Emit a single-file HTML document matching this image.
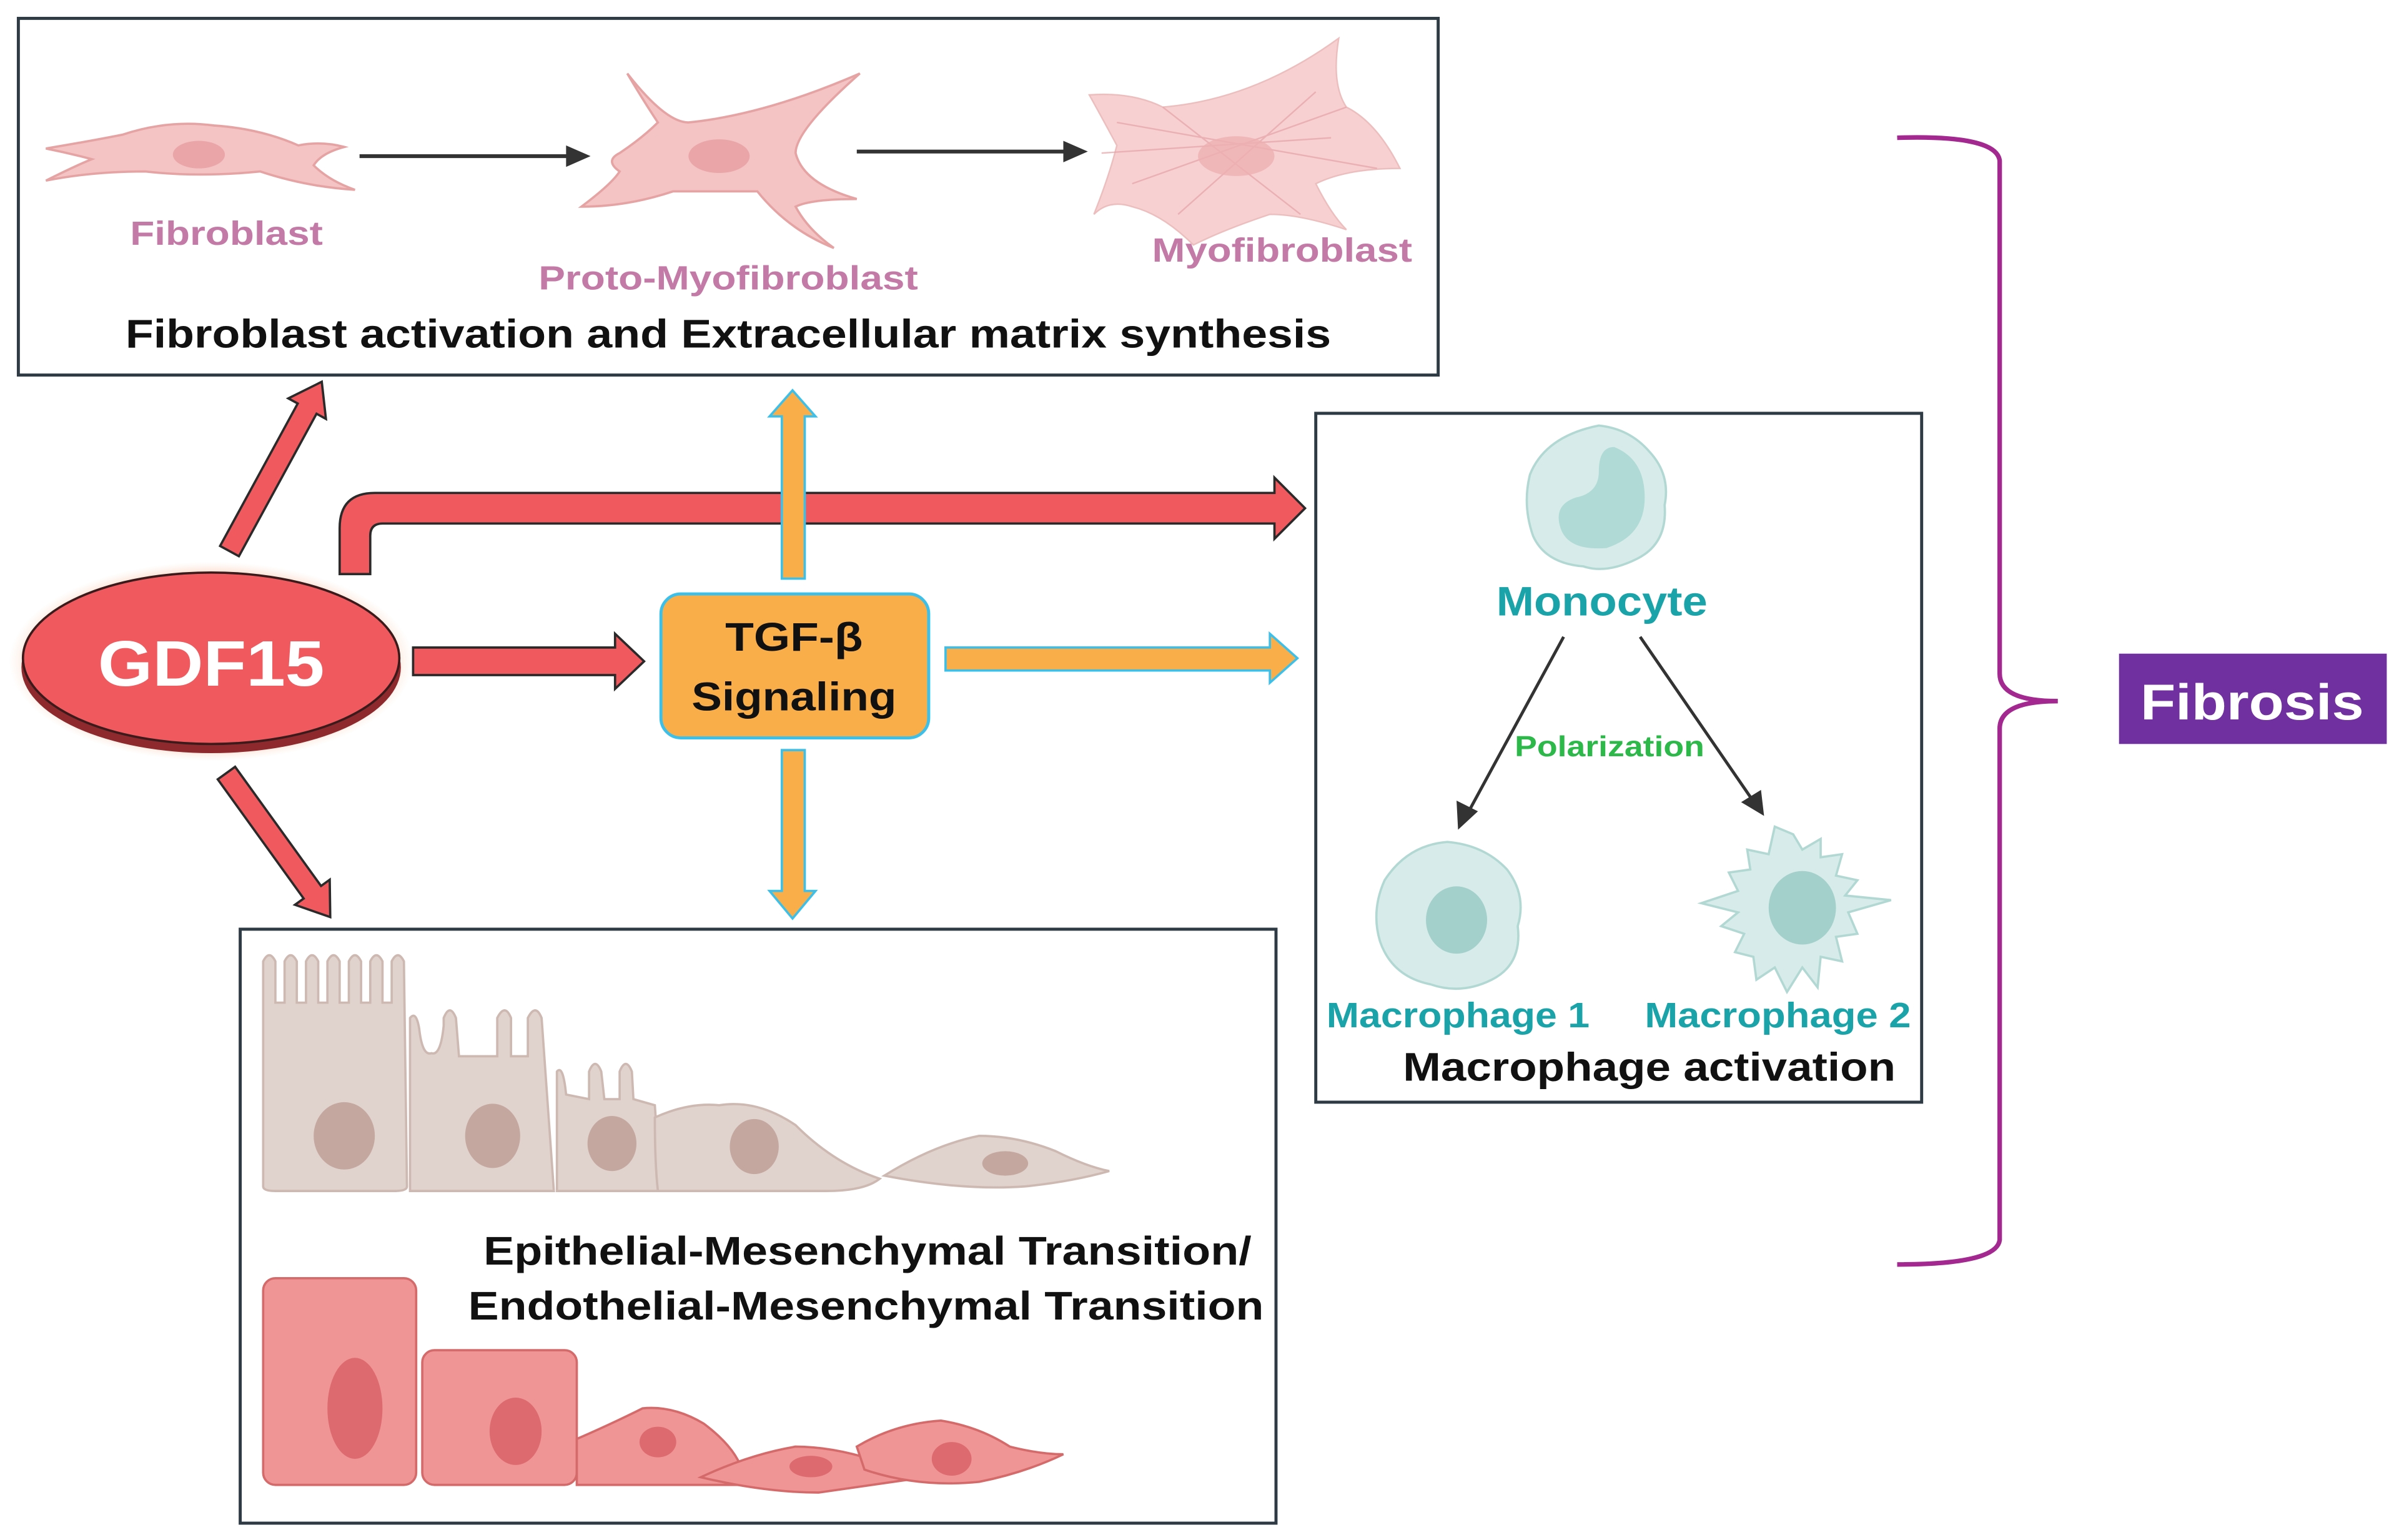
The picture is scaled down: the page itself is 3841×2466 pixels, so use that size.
<!DOCTYPE html>
<html><head><meta charset="utf-8"><style>
html,body{margin:0;padding:0;background:#fff;}
svg{display:block;}
text{font-family:"Liberation Sans",Arial,sans-serif;font-weight:bold;}
</style></head><body>
<svg width="3841" height="2466" viewBox="0 0 1568 1006" preserveAspectRatio="none" xmlns="http://www.w3.org/2000/svg">
<defs>
<radialGradient id="glow" cx="50%" cy="50%" r="50%">
<stop offset="80%" stop-color="#f7b08a" stop-opacity="0.9"/>
<stop offset="100%" stop-color="#fbd9c4" stop-opacity="0"/>
</radialGradient>
</defs>
<rect width="1568" height="1006" fill="#fff"/>

<!-- Top box -->
<rect x="12" y="12" width="928" height="233" fill="#fff" stroke="#2f3b44" stroke-width="2"/>
<!-- fibroblast -->
<path d="M30,97 Q60,92 80,88 Q110,78 140,82 Q170,84 195,95 Q210,92 225,96 Q210,100 205,108 Q215,118 232,124 Q200,122 170,112 Q130,116 95,112 Q60,112 30,118 Q50,108 60,104 Q45,100 30,97 Z" fill="#f4c4c4" stroke="#e5a3a3" stroke-width="1.5"/>
<ellipse cx="130" cy="101" rx="17" ry="9" fill="#eaa5a8"/>
<!-- proto -->
<path d="M410,48 Q435,80 450,80 Q500,75 562,48 Q520,85 520,100 Q525,120 560,130 Q530,130 520,135 Q528,150 545,162 Q515,150 495,125 Q460,125 440,125 Q410,135 380,135 Q400,120 405,112 Q395,105 405,100 Q420,90 430,80 Q420,65 410,48 Z" fill="#f4c4c4" stroke="#e5a3a3" stroke-width="1.5"/>
<ellipse cx="470" cy="102" rx="20" ry="11" fill="#eaa5a8"/>
<!-- myo -->
<path d="M712,62 Q740,60 760,70 Q820,65 875,25 Q870,55 880,70 Q900,80 915,110 Q880,110 860,120 Q870,140 880,150 Q850,140 830,140 Q800,150 780,160 Q760,140 740,135 Q725,130 715,140 Q725,115 730,95 Q722,80 712,62 Z" fill="#f6caca" stroke="#eab3b3" stroke-width="1" opacity="0.85"/>
<path d="M730,80 L900,110 M740,120 L880,70 M760,70 L850,140 M720,100 L870,90 M770,140 L860,60" stroke="#e6a3a6" stroke-width="1" fill="none" opacity="0.7"/>
<ellipse cx="808" cy="102" rx="25" ry="13" fill="#eeb0b2" opacity="0.8"/>
<!-- black arrows -->
<line x1="235" y1="102" x2="372" y2="102" stroke="#333" stroke-width="2.5"/>
<polygon points="370,95 386,102 370,109" fill="#333"/>
<line x1="560" y1="99" x2="697" y2="99" stroke="#333" stroke-width="2.5"/>
<polygon points="695,92 711,99 695,106" fill="#333"/>
<text x="148" y="160" font-size="22" fill="#c47aa6" text-anchor="middle" textLength="126" lengthAdjust="spacingAndGlyphs">Fibroblast</text>
<text x="476" y="189" font-size="22" fill="#c47aa6" text-anchor="middle" textLength="248" lengthAdjust="spacingAndGlyphs">Proto-Myofibroblast</text>
<text x="838" y="171" font-size="22" fill="#c47aa6" text-anchor="middle" textLength="170" lengthAdjust="spacingAndGlyphs">Myofibroblast</text>
<text x="476" y="227" font-size="26" fill="#111" text-anchor="middle" textLength="788" lengthAdjust="spacingAndGlyphs">Fibroblast activation and Extracellular matrix synthesis</text>

<!-- GDF15 -->
<ellipse cx="138" cy="432" rx="132" ry="65" fill="url(#glow)"/>
<ellipse cx="138" cy="436" rx="124" ry="56" fill="#8e2a2e"/>
<ellipse cx="138" cy="430" rx="123" ry="56" fill="#f05a5e" stroke="#3a1a1a" stroke-width="1.5"/>
<text x="138" y="448" font-size="42" fill="#fff" text-anchor="middle" textLength="148" lengthAdjust="spacingAndGlyphs">GDF15</text>

<!-- red arrows -->
<g fill="#f05a5e" stroke="#2a2a2a" stroke-width="1.5">
<g transform="translate(150,360) rotate(-61.4)"><polygon points="0,-7 106,-7 106,-14 126,0 106,14 106,7 0,7"/></g>
<g transform="translate(148,505) rotate(54.2)"><polygon points="0,-7 96,-7 96,-14 116,0 96,14 96,7 0,7"/></g>
<polygon points="270,423 402,423 402,414 421,432 402,450 402,441 270,441"/>
<path d="M222,375 L222,345 Q222,322 245,322 L833,322 L833,312 L853,332 L833,352 L833,342 L250,342 Q242,342 242,350 L242,375 Z"/>
</g>

<!-- orange arrows -->
<g fill="#f9ae4a" stroke="#3cc0ea" stroke-width="1.5">
<polygon points="511,378 511,272 503,272 518,255 533,272 526,272 526,378"/>
<polygon points="511,490 511,582 503,582 518,600 533,582 526,582 526,490"/>
<polygon points="618,423 830,423 830,414 848,430 830,446 830,438 618,438"/>
</g>
<!-- TGF box -->
<rect x="432" y="388" width="175" height="94" rx="13" fill="#f9ae4a" stroke="#3cc0ea" stroke-width="2"/>
<text x="519" y="425" font-size="26" fill="#111" text-anchor="middle" textLength="90" lengthAdjust="spacingAndGlyphs">TGF-β</text>
<text x="519" y="464" font-size="26" fill="#111" text-anchor="middle" textLength="134" lengthAdjust="spacingAndGlyphs">Signaling</text>

<!-- Macrophage box -->
<rect x="860" y="270" width="396" height="450" fill="#fff" stroke="#2f3b44" stroke-width="2"/>
<path d="M1045,278 Q1065,280 1078,295 Q1092,310 1088,330 Q1090,355 1070,365 Q1050,375 1035,370 Q1010,368 1002,350 Q995,330 1000,310 Q1010,285 1045,278 Z" fill="#d7ecea" stroke="#b2d8d4" stroke-width="1.5"/>
<path d="M1055,292 Q1075,300 1075,325 Q1075,350 1050,358 Q1025,360 1020,345 Q1015,330 1030,325 Q1045,322 1045,308 Q1045,292 1055,292 Z" fill="#b0dad5"/>
<text x="1047" y="402" font-size="27" fill="#1aa3a8" text-anchor="middle" textLength="138" lengthAdjust="spacingAndGlyphs">Monocyte</text>
<line x1="1022" y1="416" x2="960" y2="530" stroke="#333" stroke-width="2"/>
<polygon points="953,542 952,523 966,530" fill="#333"/>
<line x1="1072" y1="416" x2="1145" y2="522" stroke="#333" stroke-width="2"/>
<polygon points="1153,533 1138,524 1151,516" fill="#333"/>
<text x="1052" y="494" font-size="19" fill="#2db84a" text-anchor="middle" textLength="124" lengthAdjust="spacingAndGlyphs">Polarization</text>
<!-- M1 -->
<path d="M946,550 Q970,552 985,568 Q998,585 992,605 Q995,630 975,640 Q955,650 935,643 Q910,638 902,615 Q896,595 905,575 Q920,552 946,550 Z" fill="#d7ecea" stroke="#b2d8d4" stroke-width="1.5"/>
<ellipse cx="952" cy="601" rx="20" ry="22" fill="#a3d0cb"/>
<!-- M2 -->
<path d="M1172,545 L1178,555 L1190,548 L1190,560 L1204,558 L1200,572 L1214,575 L1206,585 L1236,588 L1208,596 L1214,610 L1200,612 L1204,628 L1190,625 L1188,645 L1178,632 L1168,648 L1160,632 L1148,640 L1146,625 L1134,622 L1140,610 L1125,605 L1136,596 L1112,590 L1136,582 L1130,570 L1144,568 L1142,555 L1156,558 L1160,540 Z" fill="#d7ecea" stroke="#b2d8d4" stroke-width="1.5"/>
<ellipse cx="1178" cy="593" rx="22" ry="24" fill="#a3d0cb"/>
<text x="953" y="671" font-size="23" fill="#1aa3a8" text-anchor="middle" textLength="172" lengthAdjust="spacingAndGlyphs">Macrophage 1</text>
<text x="1162" y="671" font-size="23" fill="#1aa3a8" text-anchor="middle" textLength="174" lengthAdjust="spacingAndGlyphs">Macrophage 2</text>
<text x="1078" y="706" font-size="26" fill="#111" text-anchor="middle" textLength="322" lengthAdjust="spacingAndGlyphs">Macrophage activation</text>

<!-- Bracket -->
<path d="M1240,90 Q1305,88 1307,105 L1307,440 Q1307,458 1345,458 Q1307,458 1307,476 L1307,810 Q1305,826 1240,826" fill="none" stroke="#a3288f" stroke-width="3"/>
<rect x="1385" y="427" width="175" height="59" fill="#7030a0"/>
<text x="1472" y="470" font-size="33" fill="#fff" text-anchor="middle" textLength="146" lengthAdjust="spacingAndGlyphs">Fibrosis</text>

<!-- Bottom box -->
<rect x="157" y="607" width="677" height="388" fill="#fff" stroke="#2f3b44" stroke-width="2"/>
<g fill="#e0d3cd" stroke="#cdb9b2" stroke-width="1.5">
<path d="M172,775 L172,628 Q176,620 180,628 L180,655 L186,655 L186,628 Q190,620 194,628 L194,655 L200,655 L200,628 Q204,620 208,628 L208,655 L214,655 L214,628 Q218,620 222,628 L222,655 L228,655 L228,628 Q232,620 236,628 L236,655 L242,655 L242,628 Q246,620 250,628 L250,655 L256,655 L256,628 Q260,620 264,628 L266,775 Q266,778 258,778 L180,778 Q172,778 172,775 Z"/>
<path d="M268,778 L268,665 Q272,660 274,672 Q276,690 282,688 Q288,690 290,670 L290,665 Q294,655 298,665 L300,690 L325,690 L325,665 Q330,655 334,665 L334,690 L345,690 L345,665 Q350,655 354,665 L362,778 Z"/>
<path d="M364,778 L364,700 Q368,695 370,715 L385,718 L385,700 Q389,690 393,700 L395,718 L405,718 L405,700 Q409,690 413,700 L414,718 L428,722 L432,778 Z"/>
<path d="M430,778 Q428,760 428,730 Q450,720 470,722 Q495,718 520,735 Q545,760 575,770 Q565,778 540,778 Z"/>
<path d="M578,768 Q610,748 640,742 Q665,742 690,752 Q710,762 725,765 Q700,772 670,775 Q630,778 578,768 Z"/>
</g>
<g fill="#c4a79f">
<ellipse cx="225" cy="742" rx="20" ry="22"/>
<ellipse cx="322" cy="742" rx="18" ry="21"/>
<ellipse cx="400" cy="747" rx="16" ry="18"/>
<ellipse cx="493" cy="749" rx="16" ry="18"/>
<ellipse cx="657" cy="760" rx="15" ry="8"/>
</g>
<g fill="#f09595" stroke="#d46a6a" stroke-width="1.5">
<rect x="172" y="835" width="100" height="135" rx="8"/>
<rect x="276" y="882" width="101" height="88" rx="8"/>
<path d="M377,970 L377,940 Q400,930 420,920 Q440,918 460,930 Q480,945 485,960 L485,970 Z"/>
<path d="M458,965 Q490,950 520,945 Q545,945 575,955 Q595,960 605,965 Q570,970 535,975 Q500,975 458,965 Z"/>
<path d="M560,945 Q585,930 615,928 Q640,932 660,945 Q680,950 695,950 Q670,962 640,968 Q600,972 565,960 Z"/>
</g>
<g fill="#dc6a6f">
<ellipse cx="232" cy="920" rx="18" ry="33"/>
<ellipse cx="337" cy="935" rx="17" ry="22"/>
<ellipse cx="430" cy="942" rx="12" ry="10"/>
<ellipse cx="530" cy="958" rx="14" ry="7"/>
<ellipse cx="622" cy="953" rx="13" ry="11"/>
</g>
<text x="818" y="826" font-size="26" fill="#111" text-anchor="end" textLength="502" lengthAdjust="spacingAndGlyphs">Epithelial-Mesenchymal Transition/</text>
<text x="826" y="862" font-size="26" fill="#111" text-anchor="end" textLength="520" lengthAdjust="spacingAndGlyphs">Endothelial-Mesenchymal Transition</text>
</svg>
</body></html>
